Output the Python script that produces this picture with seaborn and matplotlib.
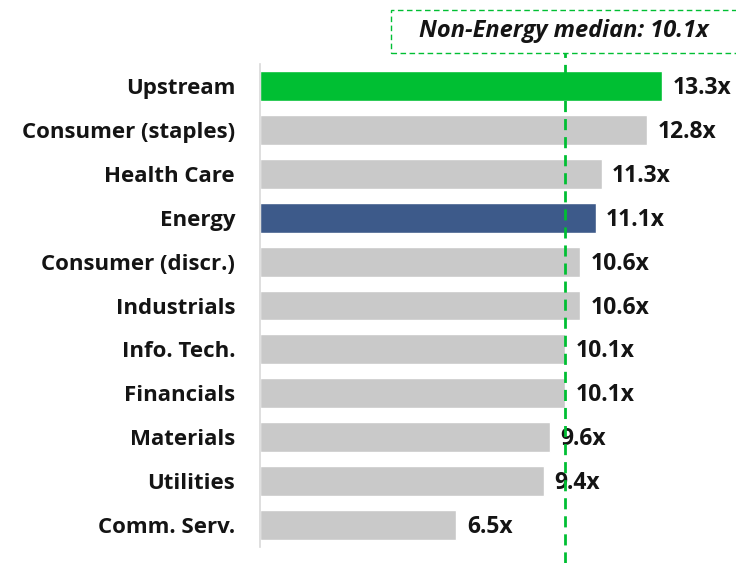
import matplotlib
matplotlib.use("Agg")
import matplotlib.pyplot as plt
import seaborn as sns
import pandas as pd
from matplotlib.patches import Rectangle

categories = ["Upstream", "Consumer (staples)", "Health Care", "Energy",
              "Consumer (discr.)", "Industrials", "Info. Tech.", "Financials",
              "Materials", "Utilities", "Comm. Serv."]
values = [13.3, 12.8, 11.3, 11.1, 10.6, 10.6, 10.1, 10.1, 9.6, 9.4, 6.5]
median_value = 10.1
median_label = "Non-Energy median: 10.1x"

GREEN = "#00BF33"
NAVY = "#3D5A8A"
GRAY = "#C9C9C9"
colors = [GREEN if c == "Upstream" else NAVY if c == "Energy" else GRAY for c in categories]

sns.set_theme(style="white")
plt.rcParams["font.family"] = ["Open Sans", "DejaVu Sans"]
FS_LAB = 16
FS_VAL = 16.5
FS_BOX = 17
TXT = "#141414"

df = pd.DataFrame({"cat": categories, "val": values})

W, H = 736, 563
fig = plt.figure(figsize=(W / 100, H / 100), dpi=100)
ax_left, ax_right = 260, 736
ax_top, ax_bottom = 64, 547
ax = fig.add_axes([ax_left / W, 1 - ax_bottom / H, (ax_right - ax_left) / W, (ax_bottom - ax_top) / H])

sns.barplot(data=df, x="val", y="cat", hue="cat", palette=colors, legend=False,
            width=0.68, ax=ax, saturation=1)

px_per_unit = (662 - 260) / 13.3
ax.set_xlim(0, (ax_right - ax_left) / px_per_unit)
ax.set_ylim(len(categories) - 0.5, -0.5)

for s in ["top", "right", "bottom"]:
    ax.spines[s].set_visible(False)
ax.spines["left"].set_color("#D9D9D9")
ax.spines["left"].set_linewidth(1.2)
ax.set_xticks([])
ax.set_xlabel("")
ax.set_ylabel("")
ax.tick_params(axis="y", length=0, pad=18)
for lab in ax.get_yticklabels():
    lab.set_fontsize(FS_LAB)
    lab.set_fontweight("bold")
    lab.set_color(TXT)

for i, v in enumerate(values):
    ax.annotate(f"{v}x", xy=(v, i), xytext=(7.5, -1.5), textcoords="offset points",
                va="center", ha="left", fontsize=FS_VAL, fontweight="bold", color=TXT)

# median dashed line
extra_top = (ax_top - 53) / (ax_bottom - ax_top)
extra_bot = (H - ax_bottom) / (ax_bottom - ax_top)
ax.axvline(median_value, ymin=-extra_bot, ymax=1 + extra_top, color=GREEN,
           linestyle=(0, (4, 2.5)), linewidth=2.0, clip_on=False, zorder=5)

# annotation box
box = Rectangle((391 / W, 1 - 53 / H), (740 - 391) / W, (53 - 10) / H,
                transform=fig.transFigure, fill=False, edgecolor=GREEN,
                linestyle=(0, (4, 2.5)), linewidth=1.0, clip_on=False)
fig.add_artist(box)
fig.text(564 / W, 1 - 31 / H, median_label, ha="center", va="center",
         fontsize=FS_BOX, fontweight="bold", fontstyle="italic", color=TXT)

fig.savefig("out.png", dpi=100)
